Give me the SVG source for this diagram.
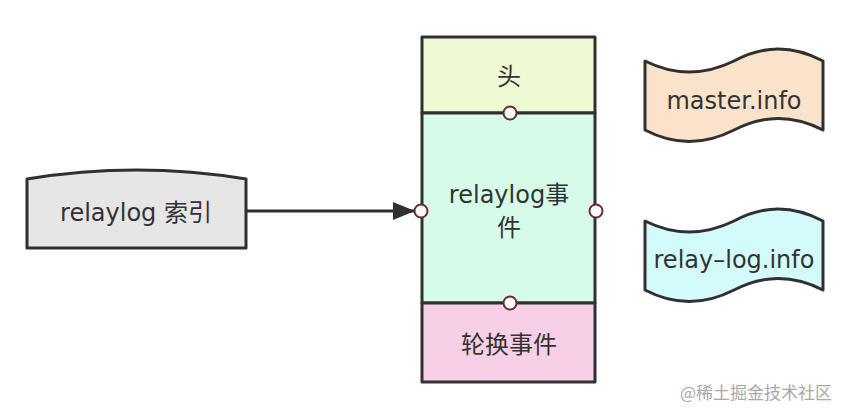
<svg xmlns="http://www.w3.org/2000/svg" width="856" height="414" viewBox="0 0 856 414">
<defs>
<style>
.sh{stroke:#303030;stroke-width:3;stroke-linejoin:round}
.t{font-family:"DejaVu Sans","Noto Sans CJK SC",sans-serif;font-size:24px;fill:#333;text-anchor:middle;dominant-baseline:central}
.pt{fill:#fff;stroke:#6b2b2b;stroke-width:2}
.wm{font-family:"Noto Sans CJK SC",sans-serif;font-size:17px;fill:#a8a8a8;dominant-baseline:central}
</style>
<marker id="ah" viewBox="0 0 22 18" refX="22" refY="9" markerWidth="22" markerHeight="18" markerUnits="userSpaceOnUse" orient="auto">
<path d="M0,0 L22,9 L0,18 Z" fill="#303030"/>
</marker>
</defs>
<rect width="856" height="414" fill="#fff"/>
<g id="connectors">
<line x1="246" y1="211" x2="415" y2="211" stroke="#303030" stroke-width="3" marker-end="url(#ah)"/>
</g>
<g id="relaylog-index">
<path class="sh" d="M27,179 Q136.5,161 246,179 L246,248 L27,248 Z" fill="#e6e6e6"/>
<text class="t" x="136" y="213">relaylog 索引</text>
</g>
<g id="head">
<rect class="sh" x="422" y="37" width="173" height="76" fill="#eefad4"/>
<text class="t" x="509" y="77">头</text>
</g>
<g id="relaylog-events">
<rect class="sh" x="422" y="113" width="173" height="190" fill="#d6fbe9"/>
<text class="t" x="509" y="195">relaylog事</text>
<text class="t" x="509" y="228">件</text>
</g>
<g id="rotate-event">
<rect class="sh" x="422" y="303" width="173" height="79" fill="#f7d0e7"/>
<text class="t" x="509" y="345">轮换事件</text>
</g>
<g id="ports">
<circle class="pt" cx="510" cy="113" r="6.5"/>
<circle class="pt" cx="510" cy="303" r="6.5"/>
<circle class="pt" cx="421" cy="211" r="6.5"/>
<circle class="pt" cx="596" cy="211" r="6.5"/>
</g>
<g id="master-info">
<path class="sh" d="M645,61 Q689,83 734,61 Q778,37 823,61 L823,130 Q778,107 734,130 Q689,153 645,130 Z" fill="#fbe3cb"/>
<text class="t" x="734" y="101">master.info</text>
</g>
<g id="relay-log-info">
<path class="sh" d="M645,221 Q689,243 734,221 Q778,197 823,221 L823,290 Q778,267 734,290 Q689,313 645,290 Z" fill="#d4fbfb"/>
<text class="t" x="734" y="260">relay–log.info</text>
</g>
<text class="wm" x="680" y="391">@稀土掘金技术社区</text>
</svg>
